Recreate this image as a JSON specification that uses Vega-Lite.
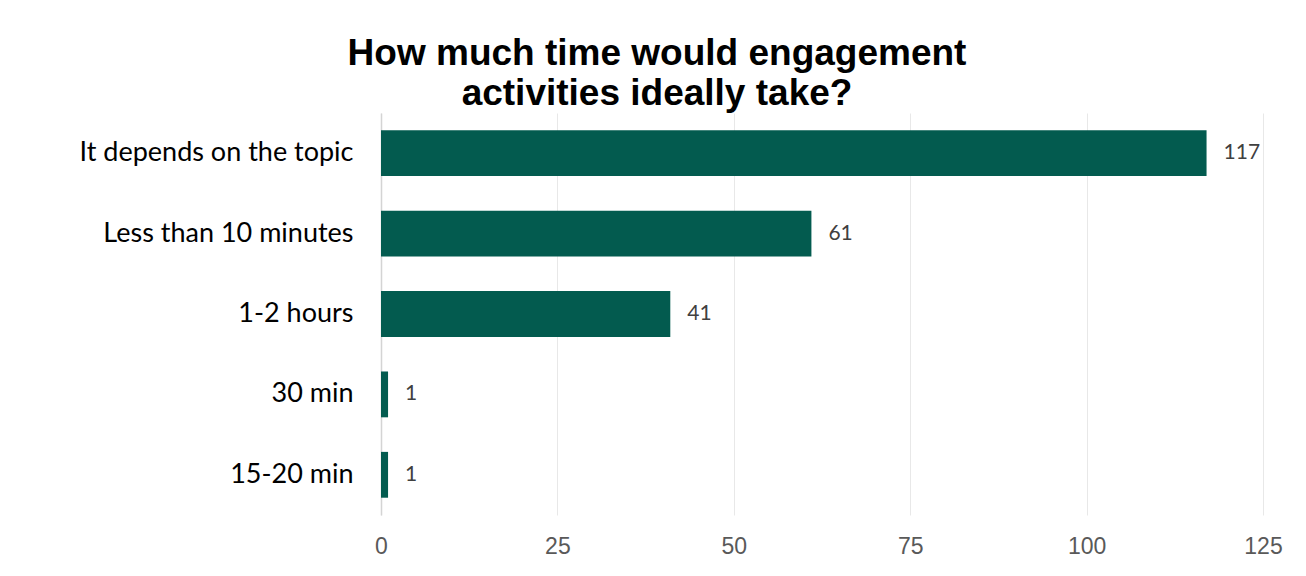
{
  "$schema": "https://vega.github.io/schema/vega-lite/v6.json",
  "width": 882,
  "height": 402,
  "autosize": {"type": "none"},
  "padding": {"left": 381, "top": 113, "right": 43, "bottom": 61},
  "background": "white",
  "title": {
    "text": ["How much time would engagement", "activities ideally take?"],
    "font": "Liberation Sans",
    "fontSize": 37,
    "fontWeight": "bold",
    "color": "#000000",
    "anchor": "middle",
    "dx": -165,
    "lineHeight": 40,
    "offset": 0
  },
  "data": {
    "values": [
      {"answer": "It depends on the topic", "count": 117},
      {"answer": "Less than 10 minutes", "count": 61},
      {"answer": "1-2 hours", "count": 41},
      {"answer": "30 min", "count": 1},
      {"answer": "15-20 min", "count": 1}
    ]
  },
  "encoding": {
    "y": {
      "field": "answer",
      "type": "nominal",
      "sort": null,
      "scale": {"paddingInner": 0.43, "paddingOuter": 0.215},
      "axis": {
        "title": null,
        "ticks": false,
        "domain": true,
        "domainColor": "#d4d4d4",
        "domainWidth": 1.5,
        "labelFont": "Lato",
        "labelFontSize": 27,
        "labelColor": "#000000",
        "labelPadding": 28,
        "labelLimit": 400
      }
    },
    "x": {
      "field": "count",
      "type": "quantitative",
      "scale": {"domain": [0, 125], "nice": false},
      "axis": {
        "title": null,
        "values": [0, 25, 50, 75, 100, 125],
        "grid": true,
        "gridColor": "#e8e8e8",
        "gridWidth": 1,
        "domain": false,
        "ticks": false,
        "labelFlush": false,
        "labelFont": "Liberation Sans",
        "labelFontSize": 23,
        "labelColor": "#595959",
        "labelPadding": 20
      }
    }
  },
  "layer": [
    {"mark": {"type": "bar", "color": "#035B4F"}},
    {
      "mark": {"type": "text", "align": "left", "baseline": "middle", "dx": 17, "font": "Lato", "fontSize": 21, "color": "#404040"},
      "encoding": {"text": {"field": "count", "type": "quantitative"}}
    }
  ],
  "config": {"view": {"stroke": null}}
}
